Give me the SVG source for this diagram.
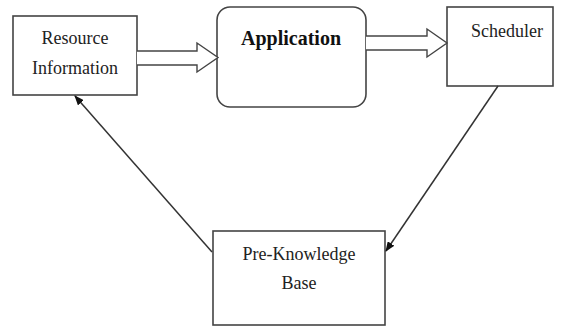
<svg xmlns="http://www.w3.org/2000/svg" width="568" height="327" viewBox="0 0 568 327">
<style>
.box{fill:#fff;stroke:#444;stroke-width:1.6}
.t{font-family:'Liberation Serif','Times New Roman',serif;font-size:18px;fill:#222;text-anchor:middle}
.b{font-family:'Liberation Serif','Times New Roman',serif;font-size:20px;font-weight:bold;fill:#111;text-anchor:middle}
.hollow{fill:#fff;stroke:#444;stroke-width:1.4;stroke-linejoin:miter}
.conn{stroke:#333;stroke-width:1.5;fill:none}
</style>
<defs>
<marker id="ah" markerWidth="10" markerHeight="8" refX="9" refY="4" orient="auto" markerUnits="userSpaceOnUse">
<path d="M0,0 L10,4 L0,8 Z" fill="#111"/>
</marker>
</defs>
<rect width="568" height="327" fill="#fff"/>
<g id="resource">
<rect class="box" x="13" y="16" width="124" height="79"/>
<text class="t" x="75" y="44">Resource</text>
<text class="t" x="75" y="74">Information</text>
</g>
<g id="application">
<rect class="box" x="217" y="7" width="149" height="100" rx="13" ry="13"/>
<text class="b" x="291" y="45">Application</text>
</g>
<g id="scheduler">
<rect class="box" x="447" y="7" width="106" height="79"/>
<text class="t" x="507" y="37">Scheduler</text>
</g>
<g id="preknowledge">
<rect class="box" x="213" y="231" width="172" height="94"/>
<text class="t" x="299" y="260">Pre-Knowledge</text>
<text class="t" x="299" y="289">Base</text>
</g>
<g id="connectors">
<path class="hollow" d="M137,51 L197,51 L197,43 L218,57.5 L197,72 L197,65 L137,65"/>
<path class="hollow" d="M366,36 L427,36 L427,29 L447,43 L427,57 L427,50 L366,50"/>
<line class="conn" x1="498" y1="86" x2="386" y2="251" marker-end="url(#ah)"/>
<line class="conn" x1="212" y1="252" x2="75" y2="96" marker-end="url(#ah)"/>
</g>
</svg>
